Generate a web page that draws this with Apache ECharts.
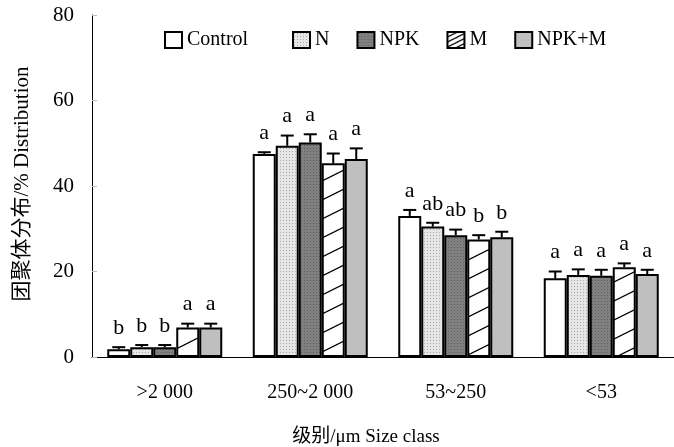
<!DOCTYPE html>
<html>
<head>
<meta charset="utf-8">
<script src="https://cdn.jsdelivr.net/npm/echarts@6/dist/echarts.min.js"></script>
<style>
  html, body { margin: 0; padding: 0; background: #fff; }
  #chart { width: 674px; height: 447px; }
</style>
</head>
<body>
<div id="chart"></div>
<script>
// 数据
const categories = ['>2 000', '250~2 000', '53~250', '<53'];
const names = ['Control', 'N', 'NPK', 'M', 'NPK+M'];
const control = [1.8, 47.5, 33.0, 18.4];
const nVals = [2.3, 49.4, 30.5, 19.2];
const npk = [2.3, 50.2, 28.5, 19.0];
const mVals = [6.9, 45.3, 27.5, 21.0];
const npkm = [6.9, 46.3, 28.0, 19.4];
const controlErr = [0.5, 0.4, 1.4, 1.6];
const nErr = [0.5, 2.4, 0.9, 1.3];
const npkErr = [0.5, 1.9, 1.3, 1.4];
const mErr = [0.9, 2.3, 1.0, 0.9];
const npkmErr = [0.9, 2.5, 1.3, 1.0];
const controlSig = ['b', 'a', 'a', 'a'];
const nSig = ['b', 'a', 'ab', 'a'];
const npkSig = ['b', 'a', 'ab', 'a'];
const mSig = ['a', 'a', 'b', 'a'];
const npkmSig = ['a', 'a', 'b', 'a'];
const yTicks = [0, 20, 40, 60, 80];

const values = [control, nVals, npk, mVals, npkm];
const errs = [controlErr, nErr, npkErr, mErr, npkmErr];
const sigs = [controlSig, nSig, npkSig, mSig, npkmSig];

const font = '"Liberation Serif", "Times New Roman", "Noto Sans CJK SC", serif';
const barW = 23;

// 填充图案
function makePattern(w, h, draw) {
  const c = document.createElement('canvas');
  c.width = w; c.height = h;
  draw(c.getContext('2d'));
  return { image: c, repeat: 'repeat' };
}
const dotLight = makePattern(3, 3, ctx => {
  ctx.fillStyle = '#e6e6e6'; ctx.fillRect(0, 0, 3, 3);
  ctx.fillStyle = '#a8a8a8'; ctx.fillRect(1, 1, 1, 1);
});
const dotDark = makePattern(3, 3, ctx => {
  ctx.fillStyle = '#808080'; ctx.fillRect(0, 0, 3, 3);
  ctx.fillStyle = '#5e5e5e'; ctx.fillRect(1, 1, 1, 1);
});
function hatchDraw(step) {
  return ctx => {
    ctx.fillStyle = '#fff'; ctx.fillRect(0, 0, 2 * step, step);
    ctx.strokeStyle = '#000'; ctx.lineWidth = 1.2;
    ctx.beginPath();
    ctx.moveTo(-2 * step, 2 * step); ctx.lineTo(4 * step, -step);
    ctx.moveTo(-2 * step, step); ctx.lineTo(2 * step, -step);
    ctx.moveTo(0, 2 * step); ctx.lineTo(4 * step, 0);
    ctx.stroke();
  };
}
const hatch = makePattern(38, 19, hatchDraw(19));
const hatchSmall = makePattern(10, 5, hatchDraw(5));
const fills = ['#ffffff', dotLight, dotDark, hatch, '#bfbfbf'];

const chart = echarts.init(document.getElementById('chart'));

const barSeries = names.map((name, i) => ({
  name: name,
  type: 'bar',
  barWidth: barW,
  barGap: '0%',
  data: values[i],
  itemStyle: { color: fills[i], borderColor: '#000', borderWidth: 2 },
  z: 2
}));

// 误差线与显著性字母
const errSeries = names.map((name, i) => ({
  type: 'custom',
  data: values[i].map((v, j) => [j, v, errs[i][j]]),
  renderItem: function (params, api) {
    const j = api.value(0);
    const v = api.value(1);
    const e = api.value(2);
    const base = api.coord([j, v]);
    const top = api.coord([j, v + e]);
    const x = base[0] + (i - 2) * barW;
    return {
      type: 'group',
      children: [
        { type: 'line', shape: { x1: x, y1: base[1], x2: x, y2: top[1] },
          style: { stroke: '#000', lineWidth: 2 } },
        { type: 'line', shape: { x1: x - 6.5, y1: top[1], x2: x + 6.5, y2: top[1] },
          style: { stroke: '#000', lineWidth: 2 } },
        { type: 'text', x: x, y: top[1] - 8,
          style: { text: sigs[i][j], font: '22px ' + font, fill: '#000',
            textAlign: 'center', textVerticalAlign: 'bottom' } }
      ]
    };
  },
  z: 5,
  silent: true
}));

const legendText = { fontFamily: font, fontSize: 20, color: '#000' };
const legendData = names.map((n, i) => ({
  name: n,
  icon: 'rect',
  itemStyle: { color: i === 3 ? hatchSmall : fills[i], borderColor: '#000', borderWidth: 2 }
}));

chart.setOption({
  animation: false,
  textStyle: { fontFamily: font },
  grid: { left: 92, right: -2, top: 15, bottom: 90 },
  legend: [
    { data: legendData.slice(0, 1), left: 159, top: 25, itemWidth: 17, itemHeight: 16,
      textStyle: legendText },
    { data: legendData.slice(1), left: 287, top: 25, itemGap: 27,
      itemWidth: 17, itemHeight: 16, textStyle: legendText }
  ],
  xAxis: {
    type: 'category',
    data: categories,
    axisLine: { lineStyle: { color: '#000', width: 1 } },
    axisTick: { inside: true, length: 5, lineStyle: { color: '#bbb' } },
    axisLabel: { fontFamily: font, fontSize: 20, color: '#000', margin: 26 }
  },
  yAxis: {
    type: 'value',
    min: 0,
    max: 80,
    interval: 20,
    splitLine: { show: false },
    axisLine: { show: true, lineStyle: { color: '#000', width: 1 } },
    axisTick: { show: true, inside: true, length: 5, lineStyle: { color: '#bbb' } },
    axisLabel: { fontFamily: font, fontSize: 21, color: '#000', margin: 18,
      formatter: v => yTicks.includes(v) ? String(v) : '' }
  },
  graphic: [
    { type: 'text', x: 22, y: 184, rotation: Math.PI / 2,
      style: { text: '团聚体分布/% Distribution', font: '21px ' + font, fill: '#000',
        textAlign: 'center', textVerticalAlign: 'middle' } },
    { type: 'text', x: 366, y: 437,
      style: { text: '级别/μm Size class', font: '19px ' + font, fill: '#000',
        textAlign: 'center', textVerticalAlign: 'middle' } }
  ],
  series: barSeries.concat(errSeries)
});

window.onresize = function () {
  chart.resize();
};
</script>
</body>
</html>
